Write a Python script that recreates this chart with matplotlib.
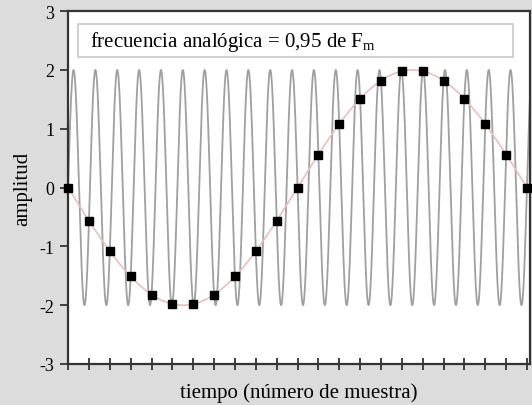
import matplotlib
matplotlib.use("Agg")
import matplotlib.pyplot as plt
from matplotlib.patches import Rectangle
import numpy as np

# ----------------------------------------------------------------------
# Data
# ----------------------------------------------------------------------

sample_n = list(range(23))
sample_val = [0.0, -0.56, -1.08, -1.51, -1.82, -1.98, -1.98, -1.82, -1.51,
              -1.08, -0.56, 0.0, 0.56, 1.08, 1.51, 1.82, 1.98, 1.98, 1.82,
              1.51, 1.08, 0.56, 0.0]

# analog signal: amplitude and frequency (fraction of sampling rate)
amp = 2.0
f_analog = 21.0 / 22.0
f_alias = f_analog - 1.0

y_ticks = [-3, -2, -1, 0, 1, 2, 3]
box_text = "frecuencia analógica = 0,95 de F$_{\\rm m}$"

# ----------------------------------------------------------------------
# Plot
# ----------------------------------------------------------------------

plt.rcParams['font.family'] = ['Liberation Serif', 'DejaVu Serif']
plt.rcParams['mathtext.fontset'] = 'custom'
plt.rcParams['mathtext.rm'] = 'Liberation Serif'
plt.rcParams['mathtext.default'] = 'rm'

fig = plt.figure(figsize=(5.32, 4.06), dpi=100, facecolor='#dcdcdc')
ax = fig.add_axes([0.128, 0.101, 0.868, 0.869])
ax.set_facecolor('white')

t = np.linspace(0, 22.2, 4000)
ax.plot(t, amp * np.sin(2 * np.pi * f_analog * t), color='#a0a0a0', lw=1.3, zorder=2)
ax.plot(t, amp * np.sin(2 * np.pi * f_alias * t), color='#e8c0c0', lw=1.2, zorder=3)
ax.plot(sample_n, sample_val, 's', color='black', ms=6, zorder=4, clip_on=False)

ax.set_xlim(0, 22.14)
ax.set_ylim(-3, 3)
ax.set_yticks(y_ticks)
ax.set_yticklabels([str(v) for v in y_ticks])
ax.set_xticks(sample_n)
ax.set_xticklabels([])

ax.tick_params(axis='y', direction='out', length=6, width=1.3, color='#333333',
               labelsize=13, pad=4)
ax.tick_params(axis='x', direction='inout', length=9, width=1.3, color='#333333')
for s in ax.spines.values():
    s.set_color('#333333')
    s.set_linewidth(1.6)

ax.set_xlabel("tiempo (número de muestra)", fontsize=15, labelpad=5)
ax.set_ylabel("amplitud", fontsize=15, labelpad=5)

# text box
ax.add_patch(Rectangle((0.021, 0.870), 0.942, 0.093, transform=ax.transAxes,
                       facecolor='white', edgecolor='#c8c8c8', lw=1.2, zorder=5))
ax.text(0.047, 0.916, box_text, transform=ax.transAxes, fontsize=15,
        va='center', ha='left', zorder=6)

fig.savefig("out.png", dpi=100, facecolor=fig.get_facecolor())
